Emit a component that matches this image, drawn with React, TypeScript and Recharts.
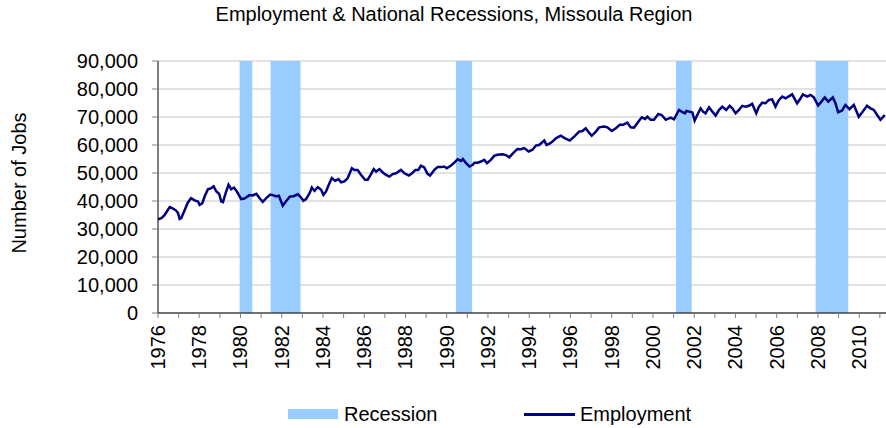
import React from 'react';
import { LineChart, Line, XAxis, YAxis, CartesianGrid, ReferenceArea } from 'recharts';

// decimal year of each reading and the jobs count
const years = [
  1976.0, 1976.16, 1976.3, 1976.57, 1976.73, 1976.89, 1976.97, 1977.05, 1977.13, 1977.3,
  1977.45, 1977.6, 1977.78, 1977.94, 1978.02, 1978.15, 1978.26, 1978.42, 1978.58, 1978.7,
  1978.83, 1978.96, 1979.07, 1979.15, 1979.28, 1979.42, 1979.55, 1979.68, 1979.84, 1980.03,
  1980.19, 1980.44, 1980.6, 1980.77, 1980.93, 1981.08, 1981.25, 1981.44, 1981.57, 1981.73,
  1981.86, 1981.97, 1982.05, 1982.2, 1982.4, 1982.57, 1982.78, 1982.9, 1983.05, 1983.18,
  1983.35, 1983.46, 1983.59, 1983.75, 1983.91, 1984.02, 1984.15, 1984.28, 1984.43, 1984.59,
  1984.75, 1984.88, 1985.04, 1985.2, 1985.4, 1985.52, 1985.68, 1985.85, 1986.04, 1986.17,
  1986.33, 1986.46, 1986.58, 1986.74, 1986.9, 1987.06, 1987.22, 1987.38, 1987.54, 1987.78,
  1987.95, 1988.16, 1988.32, 1988.48, 1988.62, 1988.75, 1988.91, 1989.07, 1989.19, 1989.4,
  1989.56, 1989.72, 1989.88, 1990.0, 1990.21, 1990.37, 1990.53, 1990.7, 1990.78, 1990.94,
  1991.1, 1991.26, 1991.34, 1991.5, 1991.66, 1991.82, 1991.95, 1992.14, 1992.3, 1992.46,
  1992.71, 1992.87, 1993.03, 1993.22, 1993.43, 1993.6, 1993.76, 1993.97, 1994.16, 1994.32,
  1994.48, 1994.73, 1994.84, 1994.97, 1995.13, 1995.29, 1995.53, 1995.74, 1995.97, 1996.18,
  1996.42, 1996.58, 1996.74, 1996.9, 1997.03, 1997.23, 1997.39, 1997.63, 1997.79, 1998.0,
  1998.2, 1998.39, 1998.55, 1998.76, 1998.92, 1999.08, 1999.3, 1999.46, 1999.62, 1999.73,
  1999.89, 2000.05, 2000.26, 2000.42, 2000.62, 2000.86, 2001.02, 2001.26, 2001.39, 2001.55,
  2001.62, 2001.78, 2001.91, 2002.02, 2002.15, 2002.31, 2002.43, 2002.55, 2002.72, 2002.88,
  2003.04, 2003.2, 2003.36, 2003.55, 2003.72, 2003.85, 2004.01, 2004.17, 2004.33, 2004.49,
  2004.65, 2004.81, 2005.01, 2005.14, 2005.3, 2005.46, 2005.62, 2005.78, 2005.94, 2006.11,
  2006.27, 2006.43, 2006.75, 2006.99, 2007.16, 2007.27, 2007.48, 2007.64, 2007.8, 2008.01,
  2008.17, 2008.33, 2008.5, 2008.72, 2008.85, 2008.98, 2009.17, 2009.33, 2009.53, 2009.74,
  2009.98, 2010.14, 2010.38, 2010.55, 2010.71, 2010.87, 2011.03, 2011.11, 2011.24,
];

const jobs = [
  33500, 33900, 34800, 37800, 37300, 36500, 35700, 33600, 33900, 36900,
  39500, 41000, 40200, 39800, 38600, 39200, 41600, 44200, 44600, 45200,
  43400, 42600, 39800, 39600, 42800, 45800, 44200, 44800, 43200, 40700,
  40900, 42100, 42000, 42600, 41000, 39700, 41000, 42300, 42100, 41600,
  41900, 39800, 38300, 39800, 41600, 41700, 42400, 41600, 40100, 40700,
  42800, 44800, 43600, 44900, 44000, 42200, 43400, 45800, 48200, 47200,
  47800, 46700, 47000, 48200, 51700, 51100, 51100, 49300, 47600, 47600,
  49600, 51400, 50500, 51400, 50200, 49300, 48700, 49600, 49900, 51100,
  49900, 49100, 49900, 51100, 51100, 52600, 52000, 49700, 49100, 51100,
  52100, 52100, 52300, 51700, 52700, 53700, 54900, 54300, 55000, 53500,
  52300, 52900, 53700, 53700, 54100, 54700, 53500, 54700, 56100, 56500,
  56700, 56400, 55600, 57100, 58600, 58500, 58900, 57700, 58300, 59800,
  60000, 61600, 60000, 60400, 61200, 62400, 63300, 62400, 61600, 63000,
  64800, 65000, 66000, 64400, 63300, 64800, 66300, 66600, 66300, 65000,
  66000, 67200, 67200, 68000, 66300, 66200, 68400, 69900, 69300, 70100,
  69000, 69000, 71100, 70700, 69000, 69800, 69200, 72500, 71900, 71300,
  72200, 71900, 71600, 68700, 70700, 73100, 71900, 71300, 73500, 71900,
  70500, 72500, 73700, 72500, 74000, 73100, 71300, 72500, 74000, 73700,
  74000, 74700, 71300, 73700, 75100, 74900, 76100, 76300, 73700, 76100,
  77300, 76700, 78100, 74900, 76700, 78100, 77300, 77900, 77000, 74100,
  75500, 77000, 75500, 77000, 74900, 71700, 72300, 74300, 72800, 74300,
  70100, 71600, 74000, 73100, 72500, 70700, 69000, 69600, 70700,
];

const recessionStart = [1979.96, 1981.46, 1990.45, 2001.12, 2007.89];
const recessionEnd = [1980.57, 1982.91, 1991.23, 2001.88, 2009.47];

const yearTicks = Array.from({ length: 36 }, (_, i) => 1976 + i);
const jobTicks = [0, 10000, 20000, 30000, 40000, 50000, 60000, 70000, 80000, 90000];

const data = years.map((t, i) => ({ t, jobs: jobs[i] }));

const FONT = '"Liberation Sans", Arial, sans-serif';

function YearTick({ x, y, payload }: any) {
  if (payload.value % 2 !== 0) return null;
  const ty = y + 5;
  return (
    <text x={x} y={ty} transform={`rotate(-90, ${x}, ${ty})`} textAnchor="end" dominantBaseline="central"
      fill="#000" fontSize={20} fontFamily={FONT}>
      {payload.value}
    </text>
  );
}

export default function App() {
  return (
    <div style={{ position: 'absolute', left: 0, top: 0, width: 886, height: 428, background: '#fff', fontFamily: FONT }}>
      <div style={{ position: 'absolute', left: 0, top: 3, width: 908, textAlign: 'center', fontSize: 20, lineHeight: '23px', color: '#000' }}>
        Employment &amp; National Recessions, Missoula Region
      </div>
      <div style={{ position: 'absolute', left: 19, top: 183, transform: 'translate(-50%, -50%) rotate(-90deg)', whiteSpace: 'nowrap', fontSize: 20, lineHeight: '23px' }}>
        Number of Jobs
      </div>
      <LineChart width={886} height={390} data={data} margin={{ top: 61, right: 0, left: 0, bottom: 0 }}>
        <CartesianGrid vertical={false} stroke="#d9d9d9" strokeWidth={1.5} />
        {recessionStart.map((s, i) => (
          <ReferenceArea key={s} x1={s} x2={recessionEnd[i]} y1={0} y2={90000} fill="#99ccff" fillOpacity={1} stroke="none" ifOverflow="hidden" />
        ))}
        <XAxis dataKey="t" type="number" domain={[1976, 2011.3]} ticks={yearTicks} interval={0} allowDataOverflow
          height={77} axisLine={{ stroke: '#000' }} tickLine={{ stroke: '#808080' }} tickSize={5} tick={<YearTick />} />
        <YAxis domain={[0, 90000]} ticks={jobTicks} interval={0} width={158} tickSize={6} tickMargin={14}
          axisLine={{ stroke: '#000' }} tickLine={{ stroke: '#808080' }}
          tick={{ fill: '#000', fontSize: 20, fontFamily: FONT }}
          tickFormatter={(v: number) => v.toLocaleString('en-US')} />
        <Line type="linear" dataKey="jobs" stroke="#000080" strokeWidth={2.5} dot={false} isAnimationActive={false} />
      </LineChart>
      <div style={{ position: 'absolute', left: 288, top: 409, width: 50, height: 10, background: '#99ccff' }} />
      <div style={{ position: 'absolute', left: 344, top: 403, fontSize: 20, lineHeight: '23px' }}>Recession</div>
      <div style={{ position: 'absolute', left: 524, top: 413, width: 51, height: 2.5, background: '#000080' }} />
      <div style={{ position: 'absolute', left: 580, top: 403, fontSize: 20, lineHeight: '23px' }}>Employment</div>
    </div>
  );
}
